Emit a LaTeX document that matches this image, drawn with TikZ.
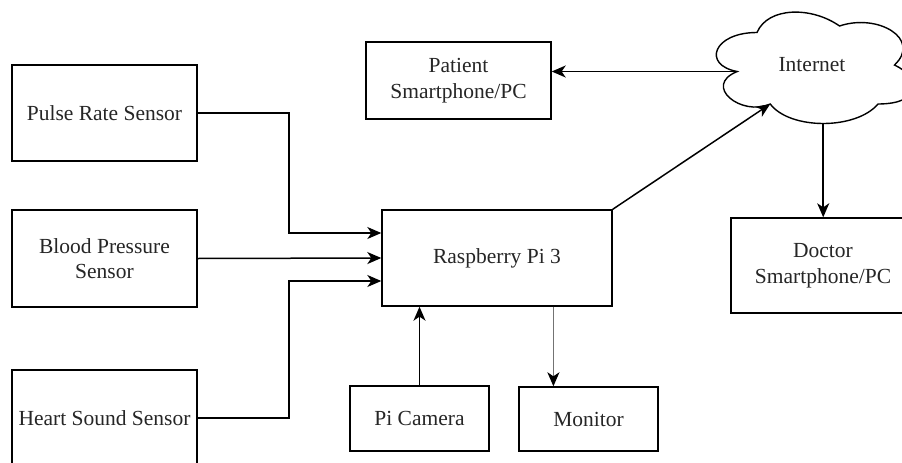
\documentclass[tikz,border=0pt]{standalone}
\usepackage{fontspec}
\setmainfont{Liberation Serif}
\usetikzlibrary{arrows.meta,calc}
\tikzset{
  blk/.style={draw=black, line width=1.4pt, fill=white, align=center, inner sep=0pt,
    font=\fontsize{21.5}{25.5}\selectfont, text=black!85},
  arr/.style={draw=black, line width=1.5pt, -{Stealth[length=14pt,width=12pt,inset=4pt]}},
  garr/.style={draw=black!55, line width=1.8pt, -{Stealth[length=14pt,width=12pt,inset=4pt,color=black]}},
}
\begin{document}
\begin{tikzpicture}[x=1pt,y=-1pt]
\useasboundingbox (0,0) rectangle (902,463);
\clip (0,0) rectangle (902,463);
\fill[white] (0,0) rectangle (902,463);

% boxes
\node[blk, minimum width=185pt, minimum height=96pt] (pulse) at (104.5,113) {Pulse Rate Sensor};
\node[blk, minimum width=185pt, minimum height=97pt] (blood) at (104.5,258.5) {Blood Pressure\\Sensor};
\node[blk, minimum width=185pt, minimum height=96pt] (heart) at (104.5,418) {Heart Sound Sensor};
\node[blk, minimum width=230pt, minimum height=96pt] (pi) at (497,258) {Raspberry Pi 3};
\node[blk, minimum width=139pt, minimum height=65pt] (cam) at (419.5,418.5) {Pi Camera};
\node[blk, minimum width=139pt, minimum height=64pt] (mon) at (588.5,419) {Monitor};
\node[blk, minimum width=185pt, minimum height=77pt] (patient) at (458.5,80.5) {Patient\\Smartphone/PC};
\node[blk, minimum width=184pt, minimum height=95pt] (doctor) at (823,265.5) {Doctor\\Smartphone/PC};

% cloud (x0=702, y0=0, w=220, h=130)
\begin{scope}[shift={(702,0)}, x=220pt, y=-130pt]
\draw[line width=1.4pt, fill=white]
  (0.25,0.25) .. controls (0.05,0.25) and (0,0.5) .. (0.16,0.55)
  .. controls (0,0.66) and (0.18,0.9) .. (0.31,0.8)
  .. controls (0.4,1) and (0.7,1) .. (0.8,0.8)
  .. controls (1,0.8) and (1,0.6) .. (0.875,0.5)
  .. controls (1,0.3) and (0.8,0.1) .. (0.625,0.2)
  .. controls (0.5,0.05) and (0.3,0.05) .. (0.25,0.25) -- cycle;
\coordinate (inetL) at (0.16,0.55);
\coordinate (inetB) at (0.31,0.8);
\coordinate (inetS) at (0.551,0.95);
\end{scope}
\node[font=\fontsize{21.5}{25.5}\selectfont, text=black!85] (inet) at (812,65) {Internet};

% connectors
\coordinate (piA) at ($(pi.west)+(0,-25)$);
\coordinate (piC) at ($(pi.west)+(0,23)$);
\draw[arr] (pulse.east) -- (289,113) |- (piA);
\draw[arr] (blood.east) -- (pi.west);
\draw[arr] (heart.east) -- (289,418) |- (piC);
\draw[arr] (cam.north) -- (cam.north |- pi.south);
\coordinate (mtop) at ($(mon.north west)!0.25!(mon.north east)$);
\draw[garr] (pi.south -| mtop) -- (mtop);
\draw[arr] (pi.north east) -- (inetB);
\draw[arr] (inetL) -- (inetL -| patient.east);
\draw[arr] (inetS) -- (inetS |- doctor.north);
\end{tikzpicture}
\end{document}
